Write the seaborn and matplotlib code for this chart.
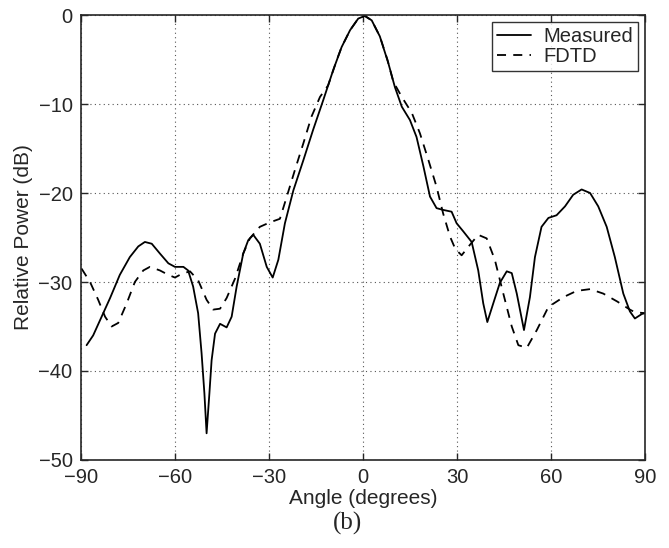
import numpy as np
import pandas as pd
import seaborn as sns
import matplotlib.pyplot as plt

# measured pattern (angle in degrees, power in dB)
meas_angle = [-88.2, -86.1, -83.4, -80.7, -77.6, -74.4, -71.7, -69.6, -67.4, -64.8, -62.1, -60.0,
              -57.3, -55.8, -54.2, -52.6, -51.5, -50.6, -49.9, -49.0, -48.3, -47.2, -45.6, -43.5,
              -41.9, -40.3, -38.2, -36.6, -35.0, -32.9, -30.7, -28.8, -27.0, -24.9, -22.2, -19.0,
              -15.9, -12.7, -9.5, -6.8, -4.1, -1.5, 0.6, 2.8, 5.4, 8.1, 10.2, 12.4, 15.0, 17.1,
              19.3, 21.4, 23.5, 25.6, 28.3, 29.9, 32.0, 34.7, 36.8, 38.4, 39.7, 41.6, 43.7, 45.9,
              47.5, 49.1, 51.4, 53.3, 54.9, 57.0, 59.2, 61.8, 64.5, 67.1, 69.8, 72.5, 75.1, 77.8,
              80.4, 83.1, 85.2, 86.8, 89.0, 90.0]
meas_db = [-37.1, -36.0, -33.9, -31.8, -29.2, -27.2, -26.0, -25.5, -25.7, -26.8, -27.9, -28.3,
           -28.3, -28.7, -30.5, -33.5, -38.0, -42.5, -47.0, -42.5, -38.8, -35.8, -34.7, -35.1,
           -33.9, -30.5, -26.8, -25.3, -24.7, -25.7, -28.3, -29.5, -27.5, -23.4, -19.7, -16.3,
           -12.9, -9.6, -6.2, -3.6, -1.7, -0.4, -0.1, -0.6, -2.4, -5.4, -8.1, -10.3, -11.8, -13.7,
           -17.0, -20.4, -21.7, -21.9, -22.1, -23.4, -24.3, -25.5, -28.7, -32.4, -34.5, -32.4, -30.1, -28.8,
           -29.0, -31.3, -35.4, -31.7, -27.2, -23.8, -22.8, -22.5, -21.5, -20.2, -19.6, -20.0, -21.5, -23.8,
           -27.2, -31.3, -33.3, -34.1, -33.6, -33.5]

# FDTD simulation
fdtd_angle = [-89.8, -87.1, -84.5, -82.3, -80.2, -78.1, -75.4, -72.8, -70.1, -68.0, -64.8, -62.1,
              -60.0, -57.9, -55.2, -52.6, -49.9, -47.8, -45.6, -43.5, -40.8, -38.2, -36.1, -32.9,
              -29.7, -26.5, -24.3, -21.7, -19.0, -16.4, -13.7, -11.1, -8.4, -6.8, -4.1, -1.5, 0.6,
              2.8, 5.4, 7.8, 9.7, 12.4, 15.6, 18.2, 20.9, 23.5, 25.6, 27.8, 29.5, 31.5, 34.2, 36.8,
              39.5, 42.1, 44.8, 47.5, 49.6, 52.3, 55.5, 59.2, 64.0, 68.2, 72.5, 76.7, 81.2, 85.2,
              86.8, 90.0]
fdtd_db = [-28.5, -30.0, -32.0, -33.9, -35.0, -34.6, -32.4, -30.0, -28.7, -28.3, -28.7, -29.2,
           -29.5, -29.1, -28.8, -29.8, -32.0, -33.1, -33.0, -31.8, -29.6, -26.8, -25.1, -23.8,
           -23.3, -22.9, -20.4, -17.4, -14.4, -11.4, -9.2, -7.9, -5.1, -3.6, -1.7, -0.4, -0.1,
           -0.6, -2.4, -5.0, -7.5, -9.2, -11.0, -13.3, -16.3, -19.3, -22.3, -24.9, -26.3, -27.0, -25.8, -24.7,
           -25.1, -27.5, -31.3, -35.0, -37.1, -37.4, -35.4, -32.8, -31.7, -31.0, -30.8, -31.3, -32.2, -33.1,
           -33.4, -33.5]

sns.set_style("ticks")
plt.rcParams['font.family'] = ['Liberation Sans', 'DejaVu Sans']

fig = plt.figure(figsize=(6.69, 5.48), dpi=100)
ax = fig.add_axes([0.121, 0.1606, 0.843, 0.812])

sns.lineplot(x=meas_angle, y=meas_db, color='black', lw=1.3, label='Measured', ax=ax)
sns.lineplot(x=fdtd_angle, y=fdtd_db, color='black', lw=1.3, linestyle=(0, (5, 4)), label='FDTD', ax=ax)

ax.set_xlim(-90, 90)
ax.set_ylim(-50, 0)
ax.set_xticks([-90, -60, -30, 0, 30, 60, 90])
ax.set_yticks([-50, -40, -30, -20, -10, 0])
ax.grid(True, linestyle=(0, (1, 3)), color='#555555', linewidth=0.8)
ax.tick_params(direction='in', top=True, right=True, labelsize=14.5, length=5, width=1, pad=6)
for s in ax.spines.values():
    s.set_linewidth(1.2)
    s.set_visible(True)

ax.set_xlabel('Angle (degrees)', fontsize=15, labelpad=1)
ax.set_ylabel('Relative Power (dB)', fontsize=15, labelpad=4)

leg = ax.legend(loc='upper right', fontsize=14.5, frameon=True, fancybox=False,
                edgecolor='black', handlelength=1.7, borderaxespad=0.35, labelspacing=0.05,
                borderpad=0.25, handletextpad=0.6)
leg.get_frame().set_linewidth(1.0)

fig.text(0.52, 0.044, '(b)', ha='center', va='center', fontsize=18, family='Liberation Serif')

fig.savefig('out.png', dpi=100)
